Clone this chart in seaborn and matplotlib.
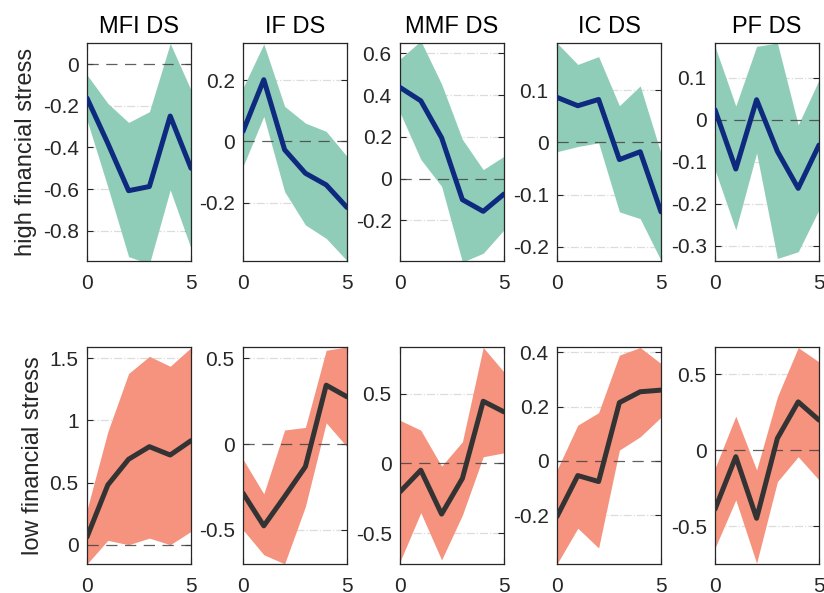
import numpy as np
import matplotlib
matplotlib.use("Agg")
import matplotlib.pyplot as plt
import seaborn as sns

# horizon
horizon = [0, 1, 2, 3, 4, 5]
titles = ["MFI DS", "IF DS", "MMF DS", "IC DS", "PF DS"]
row_labels = ["high financial stress", "low financial stress"]

# high financial stress: point estimate, upper band, lower band
high_mid = [
    [-0.163, -0.38, -0.608, -0.588, -0.249, -0.50],
    [0.033, 0.202, -0.027, -0.104, -0.142, -0.216],
    [0.437, 0.373, 0.196, -0.101, -0.157, -0.074],
    [0.086, 0.070, 0.082, -0.033, -0.018, -0.133],
    [0.024, -0.117, 0.048, -0.075, -0.163, -0.060],
]
high_up = [
    [-0.051, -0.188, -0.28, -0.228, 0.10, -0.124],
    [0.175, 0.319, 0.115, 0.060, 0.033, -0.049],
    [0.573, 0.66, 0.453, 0.188, 0.043, 0.107],
    [0.19, 0.149, 0.164, 0.070, 0.108, -0.021],
    [0.175, 0.033, 0.175, 0.183, -0.012, 0.095],
]
high_lo = [
    [-0.268, -0.59, -0.925, -0.96, -0.604, -0.885],
    [-0.082, 0.082, -0.164, -0.273, -0.317, -0.39],
    [0.317, 0.092, -0.037, -0.40, -0.358, -0.246],
    [-0.018, -0.008, -0.001, -0.133, -0.146, -0.226],
    [-0.119, -0.262, -0.079, -0.33, -0.314, -0.214],
]

# low financial stress
low_mid = [
    [0.062, 0.48, 0.687, 0.788, 0.721, 0.836],
    [-0.287, -0.478, -0.307, -0.132, 0.344, 0.276],
    [-0.203, -0.048, -0.362, -0.107, 0.445, 0.369],
    [-0.205, -0.054, -0.076, 0.215, 0.255, 0.261],
    [-0.389, -0.044, -0.449, 0.077, 0.317, 0.197],
]
low_up = [
    [0.28, 0.908, 1.376, 1.514, 1.434, 1.584],
    [-0.089, -0.291, 0.082, 0.097, 0.548, 0.567],
    [0.309, 0.238, -0.019, 0.155, 0.83, 0.654],
    [-0.033, 0.132, 0.178, 0.39, 0.418, 0.359],
    [-0.12, 0.223, -0.131, 0.35, 0.674, 0.58],
]
low_lo = [
    [-0.155, 0.035, 0.0, 0.053, 0.0, 0.107],
    [-0.501, -0.647, -0.70, -0.365, 0.124, -0.016],
    [-0.702, -0.352, -0.69, -0.369, 0.048, 0.076],
    [-0.38, -0.248, -0.321, 0.04, 0.089, 0.161],
    [-0.645, -0.328, -0.745, -0.208, -0.044, -0.197],
]

# axis limits and ticks
high_ylim = [(-0.946, 0.102), (-0.391, 0.322), (-0.395, 0.65), (-0.227, 0.19), (-0.336, 0.183)]
high_yticks = [
    [-0.8, -0.6, -0.4, -0.2, 0],
    [-0.2, 0, 0.2],
    [-0.2, 0, 0.2, 0.4, 0.6],
    [-0.2, -0.1, 0, 0.1],
    [-0.3, -0.2, -0.1, 0, 0.1],
]
low_ylim = [(-0.155, 1.589), (-0.701, 0.567), (-0.719, 0.833), (-0.38, 0.42), (-0.75, 0.678)]
low_yticks = [
    [0, 0.5, 1, 1.5],
    [-0.5, 0, 0.5],
    [-0.5, 0, 0.5],
    [-0.2, 0, 0.2, 0.4],
    [-0.5, 0, 0.5],
]

sns.set_style("ticks")
plt.rcParams["font.family"] = ["Liberation Sans", "DejaVu Sans"]
plt.rcParams["axes.unicode_minus"] = False

W, H = 824, 593
fig = plt.figure(figsize=(W / 100, H / 100), dpi=100)

lefts = [87, 243, 400, 557, 715]
aw = 104
rows = [
    (43, 261, high_mid, high_up, high_lo, high_ylim, high_yticks, "#90cdb9", "#0d2a7f"),
    (347, 564, low_mid, low_up, low_lo, low_ylim, low_yticks, "#f5937e", "#333333"),
]


def fmt(v):
    s = "%g" % v
    return s


for r, (top, bot, mid, up, lo, ylims, yticks, fill_c, line_c) in enumerate(rows):
    for i in range(5):
        ax = fig.add_axes([lefts[i] / W, 1 - bot / H, aw / W, (bot - top) / H])
        # grid lines (dash-dot), zero line dashed
        for t in yticks[i]:
            if t == 0:
                continue
            ax.axhline(t, color="#dcdcdc", lw=0.9, ls="-.", zorder=0)
        ax.fill_between(horizon, lo[i], up[i], color=fill_c, lw=0, zorder=1)
        ax.axhline(0, color="#444444", lw=0.9, ls=(0, (9, 6)), alpha=0.85, zorder=2)
        sns.lineplot(x=horizon, y=mid[i], ax=ax, color=line_c, lw=3.6, zorder=3)
        ax.set_xlim(0, 5)
        ax.set_ylim(*ylims[i])
        ax.set_xticks([0, 5])
        ax.set_xticklabels(["0", "5"])
        ax.set_yticks(yticks[i])
        ax.set_yticklabels([fmt(t) for t in yticks[i]])
        ax.tick_params(direction="in", length=4, width=0.8, top=True, right=True,
                       labelsize=15, colors="#262626", labelcolor="#262626")
        ax.tick_params(axis="x", pad=9)
        ax.tick_params(axis="y", pad=6)
        for sp in ax.spines.values():
            sp.set_visible(True)
            sp.set_color("#262626")
            sp.set_linewidth(0.9)
        ax.set_xlabel("")
        ax.set_ylabel("")
        if r == 0:
            ax.set_title(titles[i], fontsize=17, color="black", pad=7)
        if i == 0:
            ax.set_ylabel(row_labels[r], fontsize=17, color="#262626", labelpad=4)

fig.savefig("out.png", dpi=100)
